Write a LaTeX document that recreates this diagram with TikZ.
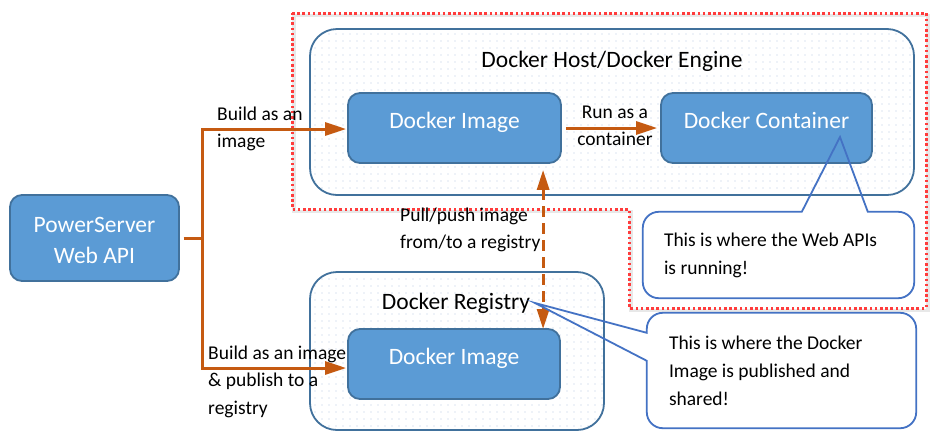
\documentclass[tikz,border=0pt]{standalone}
\usepackage{fontspec}
\setmainfont{Carlito}
\usetikzlibrary{arrows.meta,calc,patterns.meta}
\definecolor{boxfill}{RGB}{91,155,213}
\definecolor{boxline}{RGB}{65,113,156}
\definecolor{callline}{RGB}{68,114,196}
\definecolor{orng}{RGB}{197,90,17}
\definecolor{redline}{RGB}{255,60,60}
\definecolor{dotblue}{RGB}{185,200,228}
\begin{document}
\begin{tikzpicture}[x=1pt,y=-1pt,
  bigfont/.style={font=\fontsize{23.5}{31}\selectfont},
  smallfont/.style={font=\fontsize{19.5}{27.8}\selectfont},
  bluebox/.style={draw=boxline, line width=1.8pt, fill=boxfill, rounded corners=12pt, text=white, bigfont, inner sep=0pt},
  onebox/.style={bluebox, text height=16pt, text depth=16pt, minimum height=70pt},
  holder/.style={draw=boxline, line width=1.8pt, rounded corners=27pt, pattern={Dots[distance=7pt,radius=0.55pt]}, pattern color=dotblue, inner sep=0pt},
  lbl/.style={smallfont, inner sep=0pt, anchor=base west, align=flush left, text width=#1},
  flow/.style={draw=orng, line width=3pt, -{Triangle[length=21pt,width=13pt]}},
  callout/.style={draw=callline, line width=1.8pt, line join=miter},
  calltext/.style={fill=white, smallfont, align=flush left, inner ysep=0pt}
]
\useasboundingbox (0,0) rectangle (950,440);
\fill[white] (0,0) rectangle (950,440);

% red dotted region with shadow
\draw[black!9, line width=3.5pt, shift={(2,2.5)}] (292,13) -- (926,13) -- (926,308) -- (629,308) -- (629,209) -- (292,209) -- cycle;
\draw[redline, line width=3pt, dash pattern=on 2.6pt off 2.6pt] (292,13) -- (926,13) -- (926,308) -- (629,308) -- (629,209) -- (292,209) -- cycle;

% containers
\node[holder, minimum width=604pt, minimum height=166pt] (host) at (612,112) {};
\node[holder, minimum width=294pt, minimum height=158pt] (registry) at (457,351) {};
\node[bigfont, anchor=base, inner sep=0pt] (hosttitle) at (612,67) {Docker Host/Docker Engine};
\node[bigfont, anchor=base, inner sep=0pt] (regtitle) at (456,309) {Docker Registry};

% blue boxes
\node[onebox, minimum width=213pt] (img1) at (454.5,128) {Docker Image};
\node[onebox, minimum width=211pt] (cont) at (766.5,128) {Docker Container};
\node[onebox, minimum width=212pt] (img2) at (454,364) {Docker Image};
\node[bluebox, minimum width=169pt, minimum height=86pt] (ps) at (94.5,238) {};
\node[bigfont, text=white, align=flush center, anchor=base, text width=160pt, inner sep=0pt] (pstext) at (94.5,232) {PowerServer\\Web API};

% connectors
\draw[flow] ([xshift=4pt]ps.east) -- ++(19,0) |- ($(img1.west)+(-1,1)$);
\draw[flow] ([xshift=4pt]ps.east) -- ++(19,0) |- ($(img2.west)+(-1,4)$);
\draw[flow] ([xshift=4pt]img1.east) -- ([xshift=-3pt]cont.west);
\draw[flow, dash pattern=on 11pt off 6pt, {Triangle[length=20pt,width=12pt]}-{Triangle[length=20pt,width=12pt]}] ($(img1.south west)+(196,6)$) -- ($(img2.north west)+(196,1)$);

% labels
\node[lbl=150pt] (l1) at (217,120) {Build as an\\image};
\node[lbl=160pt] (l2) at (208,359) {Build as an image\\\& publish to a\\registry};
\node[lbl=160pt] (l3) at (400,221) {Pull/push image\\from/to a registry};
\node[smallfont, inner sep=0pt, anchor=base, text width=90pt, align=flush center] (l4) at (615,118) {Run as a\\container};

% callouts
\coordinate (tip1) at (840,137);
\coordinate (tip2) at (535,303);
\node[calltext, text width=229pt, inner xsep=21pt, minimum height=86pt] (c1) at (778.5,255) {This is where the Web APIs\\is running!};
\draw[callout] ($(c1.north west)+(159,0)$) -- (tip1) -- ($(c1.north west)+(225,0)$) -- ($(c1.north east)+(-16,0)$) arc[start angle=90,end angle=0,radius=16pt] -- ($(c1.south east)+(0,-16)$) arc[start angle=0,end angle=-90,radius=16pt] -- ($(c1.south west)+(16,0)$) arc[start angle=-90,end angle=-180,radius=16pt] -- ($(c1.north west)+(0,16)$) arc[start angle=180,end angle=90,radius=16pt] -- cycle;

\node[calltext, text width=225pt, inner xsep=22pt, minimum height=115pt] (c2) at (781.5,370.5) {This is where the Docker\\Image is published and\\shared!};
\draw[callout] ($(c2.north west)+(0,20)$) -- (tip2) -- ($(c2.north west)+(0,48)$) -- ($(c2.south west)+(0,-16)$) arc[start angle=180,end angle=270,radius=16pt] -- ($(c2.south east)+(-16,0)$) arc[start angle=270,end angle=360,radius=16pt] -- ($(c2.north east)+(0,16)$) arc[start angle=0,end angle=90,radius=16pt] -- ($(c2.north west)+(16,0)$) arc[start angle=90,end angle=180,radius=16pt] -- cycle;
\end{tikzpicture}
\end{document}
